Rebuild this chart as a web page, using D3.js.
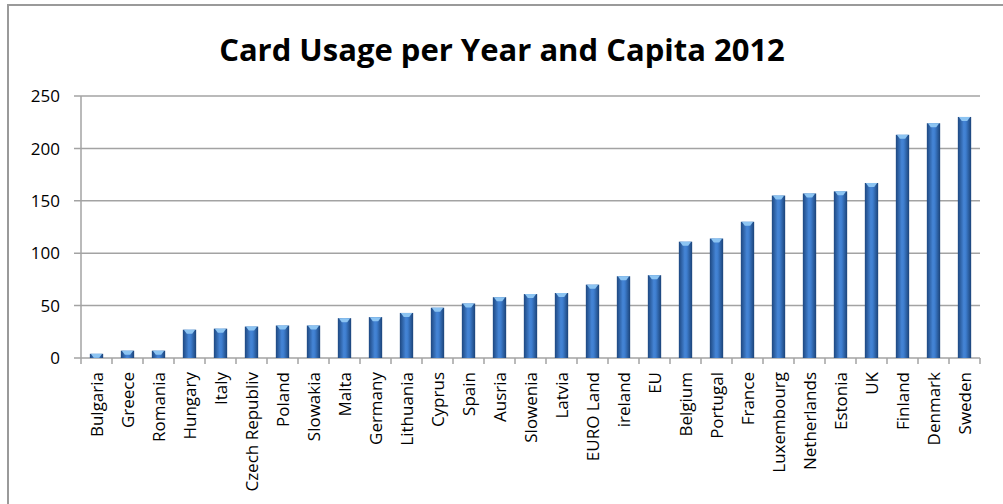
<!DOCTYPE html>
<html>
<head>
<meta charset="utf-8">
<script src="https://cdn.jsdelivr.net/npm/d3@7"></script>
<style>
    body { margin: 0; background: #fff; }
    text { font-family: "Open Sans", sans-serif; fill: #000; }
</style>
</head>
<body>
<div id="chart"></div>
<script>
var countries = ["Bulgaria", "Greece", "Romania", "Hungary", "Italy", "Czech Republiv", "Poland",
    "Slowakia", "Malta", "Germany", "Lithuania", "Cyprus", "Spain", "Ausria", "Slowenia", "Latvia",
    "EURO Land", "ireland", "EU", "Belgium", "Portugal", "France", "Luxembourg", "Netherlands",
    "Estonia", "UK", "Finland", "Denmark", "Sweden"];
var usage = [4, 7, 7, 27, 28, 30, 31, 31, 38, 39, 43, 48, 52, 58, 61, 62, 70, 78, 79,
    111, 114, 130, 155, 157, 159, 167, 213, 224, 230];
var yTicks = [0, 50, 100, 150, 200, 250];

function init() {
    var w = 1003;
    var h = 504;

    var svg = d3.select("#chart")
        .append("svg")
        .attr("width", w)
        .attr("height", h);

    // outer chart frame
    svg.append("rect")
        .attr("x", 8)
        .attr("y", 5)
        .attr("width", w + 20)
        .attr("height", h + 20)
        .attr("fill", "none")
        .attr("stroke", "#9a9a9a")
        .attr("stroke-width", 2);

    var xScale = d3.scaleBand()
        .domain(countries)
        .range([81, 980])
        .paddingInner(0.57)
        .paddingOuter(0.285);

    var yScale = d3.scaleLinear()
        .domain([0, 250])
        .range([358, 96]);

    var defs = svg.append("defs");
    var grad = defs.append("linearGradient")
        .attr("id", "barGrad")
        .attr("x1", "0%").attr("x2", "100%")
        .attr("y1", "0%").attr("y2", "0%");
    grad.append("stop").attr("offset", "0%").attr("stop-color", "#1d4780");
    grad.append("stop").attr("offset", "45%").attr("stop-color", "#4585d6");
    grad.append("stop").attr("offset", "60%").attr("stop-color", "#3e7ecf");
    grad.append("stop").attr("offset", "100%").attr("stop-color", "#1b4378");

    // gridlines with left tick stubs
    svg.selectAll(".grid")
        .data(yTicks)
        .enter()
        .append("line")
        .attr("class", "grid")
        .attr("x1", 74)
        .attr("x2", 980)
        .attr("y1", function (d) { return yScale(d); })
        .attr("y2", function (d) { return yScale(d); })
        .attr("stroke", "#a3a3a3")
        .attr("stroke-width", 1.5);

    // y axis line
    svg.append("line")
        .attr("x1", 81).attr("x2", 81)
        .attr("y1", yScale(250)).attr("y2", yScale(0))
        .attr("stroke", "#a3a3a3")
        .attr("stroke-width", 1.5);

    svg.selectAll(".ylab")
        .data(yTicks)
        .enter()
        .append("text")
        .attr("class", "ylab")
        .attr("x", 60)
        .attr("y", function (d) { return yScale(d); })
        .attr("dy", "0.36em")
        .attr("text-anchor", "end")
        .style("font-size", "17px")
        .text(function (d) { return d; });

    // x axis tick marks at band boundaries
    var step = xScale.step();
    svg.selectAll(".xtick")
        .data(d3.range(countries.length + 1))
        .enter()
        .append("line")
        .attr("class", "xtick")
        .attr("x1", function (i) { return 81 + i * step; })
        .attr("x2", function (i) { return 81 + i * step; })
        .attr("y1", yScale(0))
        .attr("y2", yScale(0) + 6)
        .attr("stroke", "#a3a3a3")
        .attr("stroke-width", 1.5);

    // bars
    svg.selectAll(".bar")
        .data(usage)
        .enter()
        .append("rect")
        .attr("class", "bar")
        .attr("x", function (d, i) { return xScale(countries[i]); })
        .attr("y", function (d) { return yScale(d); })
        .attr("width", xScale.bandwidth())
        .attr("height", function (d) { return yScale(0) - yScale(d); })
        .attr("fill", "url(#barGrad)");

    // light bevel at bar tops
    svg.selectAll(".bevel")
        .data(usage)
        .enter()
        .append("polygon")
        .attr("class", "bevel")
        .attr("points", function (d, i) {
            var x0 = xScale(countries[i]);
            var bw = xScale.bandwidth();
            var y0 = yScale(d);
            var bh = Math.min(4, yScale(0) - y0);
            return [[x0 + 1, y0], [x0 + bw - 1, y0], [x0 + bw - 4, y0 + bh], [x0 + 4, y0 + bh]]
                .map(function (p) { return p.join(","); }).join(" ");
        })
        .attr("fill", "#8cc4f2");

    // x labels, rotated
    svg.selectAll(".xlab")
        .data(countries)
        .enter()
        .append("text")
        .attr("class", "xlab")
        .attr("transform", function (d) {
            return "translate(" + (xScale(d) + xScale.bandwidth() / 2) + ",372) rotate(-90)";
        })
        .attr("dy", "0.36em")
        .attr("text-anchor", "end")
        .style("font-size", "17px")
        .text(function (d) { return d; });

    // title
    svg.append("text")
        .attr("x", 502)
        .attr("y", 61)
        .attr("text-anchor", "middle")
        .style("font-size", "31px")
        .style("font-weight", "bold")
        .text("Card Usage per Year and Capita 2012");
}

window.onload = init;
</script>
</body>
</html>
